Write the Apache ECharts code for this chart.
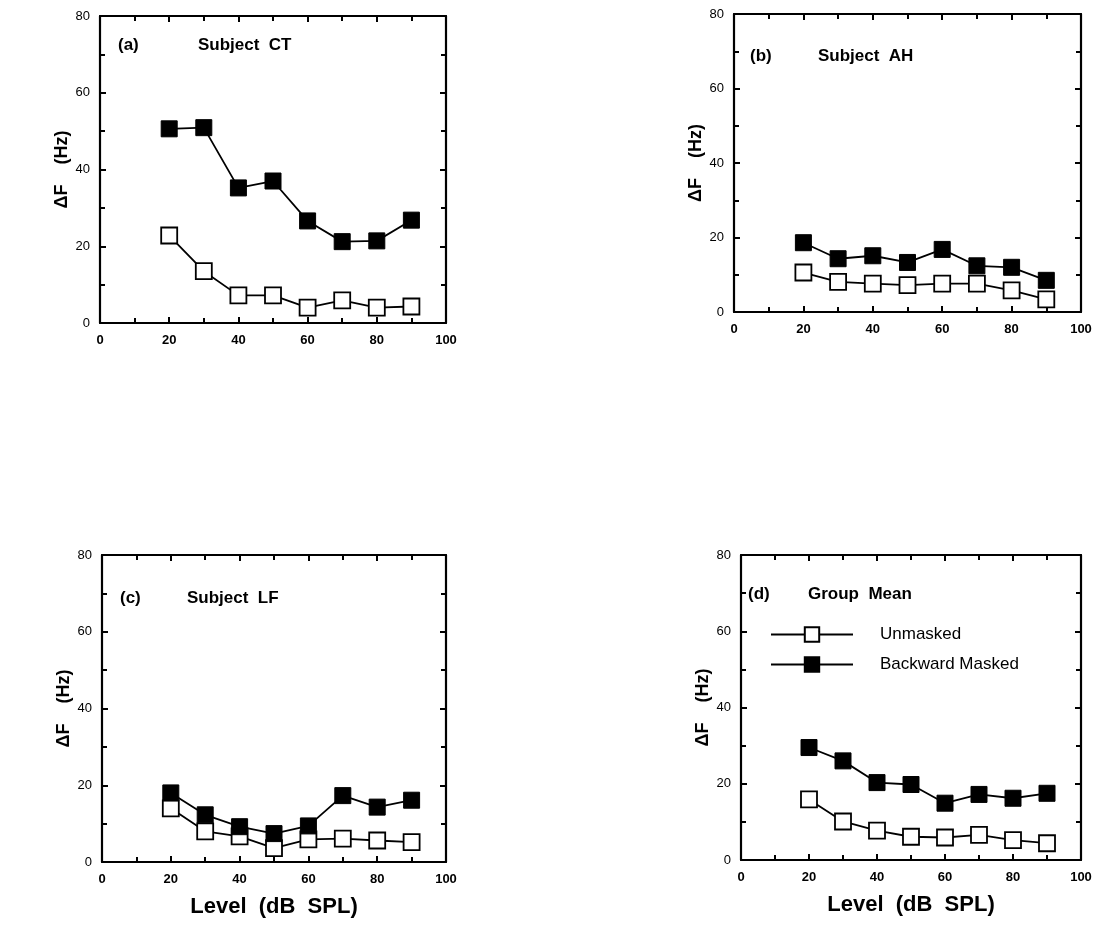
<!DOCTYPE html>
<html>
<head>
<meta charset="utf-8">
<script src="https://cdn.jsdelivr.net/npm/echarts@6/dist/echarts.min.js"></script>
<style>
  html, body { margin: 0; padding: 0; background: #fff; }
  #chart { width: 1102px; height: 927px; }
</style>
</head>
<body>
<div id="chart"></div>
<script>
const levels = [20, 30, 40, 50, 60, 70, 80, 90]

// (a) Subject CT
const ctUnmasked = [22.8, 13.5, 7.2, 7.2, 4.0, 5.9, 4.0, 4.3]
const ctMasked = [50.6, 50.9, 35.2, 37.0, 26.6, 21.2, 21.4, 26.8]
// (b) Subject AH
const ahUnmasked = [10.6, 8.1, 7.6, 7.2, 7.6, 7.6, 5.8, 3.4]
const ahMasked = [18.6, 14.3, 15.1, 13.3, 16.8, 12.4, 12.0, 8.5]
// (c) Subject LF
const lfUnmasked = [14.0, 8.0, 6.7, 3.6, 5.9, 6.1, 5.6, 5.2]
const lfMasked = [18.0, 12.3, 9.2, 7.4, 9.4, 17.3, 14.3, 16.1]
// (d) Group Mean
const meanUnmasked = [15.9, 10.1, 7.7, 6.1, 5.9, 6.6, 5.2, 4.4]
const meanMasked = [29.5, 26.0, 20.3, 19.8, 14.9, 17.2, 16.2, 17.5]

const panelTags = ['(a)', '(b)', '(c)', '(d)']
const panelNames = ['Subject  CT', 'Subject  AH', 'Subject  LF', 'Group  Mean']
const xTicks = [0, 20, 40, 60, 80, 100]

const panels = [
  { grid: { left: 100, top: 16, width: 346, height: 307 }, open: ctUnmasked, filled: ctMasked, tag: [118, 37], name: [198, 37], xName: '' },
  { grid: { left: 734, top: 14, width: 347, height: 298 }, open: ahUnmasked, filled: ahMasked, tag: [750, 48], name: [818, 48], xName: '' },
  { grid: { left: 102, top: 555, width: 344, height: 307 }, open: lfUnmasked, filled: lfMasked, tag: [120, 590], name: [187, 590], xName: 'Level  (dB  SPL)' },
  { grid: { left: 741, top: 555, width: 340, height: 305 }, open: meanUnmasked, filled: meanMasked, tag: [748, 586], name: [808, 586], xName: 'Level  (dB  SPL)' },
]

const black = '#000'
const lineStyle = { color: black, width: 2.2 }

const grids = []
const xAxes = []
const yAxes = []
const series = []
const titles = []

panels.forEach((p, i) => {
  grids.push(Object.assign({ containLabel: false }, p.grid))
  // bottom x axis with labels
  xAxes.push({
    type: 'value', gridIndex: i, position: 'bottom', min: 0, max: 100, interval: 20,
    axisLine: { onZero: false, lineStyle }, splitLine: { show: false },
    axisTick: { inside: true, length: 6, lineStyle: { color: black, width: 2 } },
    minorTick: { show: true, splitNumber: 2, length: 5, lineStyle: { color: black, width: 2 } },
    axisLabel: { color: black, fontSize: 13, fontWeight: 'bold', fontFamily: 'Liberation Sans', margin: 11,
      formatter: v => xTicks.includes(v) ? String(v) : '' },
    name: p.xName, nameLocation: 'middle', nameGap: 34,
    nameTextStyle: { color: black, fontSize: 22, fontWeight: 'bold', fontFamily: 'Liberation Sans' }
  })
  // top x axis (frame + ticks)
  xAxes.push({
    type: 'value', gridIndex: i, position: 'top', min: 0, max: 100, interval: 20,
    axisLine: { onZero: false, lineStyle }, splitLine: { show: false }, axisLabel: { show: false },
    axisTick: { inside: true, length: 6, lineStyle: { color: black, width: 2 } },
    minorTick: { show: true, splitNumber: 2, length: 5, lineStyle: { color: black, width: 2 } }
  })
  yAxes.push({
    type: 'value', gridIndex: i, position: 'left', min: 0, max: 80, interval: 20,
    axisLine: { show: true, onZero: false, lineStyle }, splitLine: { show: false },
    axisTick: { show: true, inside: true, length: 6, lineStyle: { color: black, width: 2 } },
    minorTick: { show: true, splitNumber: 2, length: 5, lineStyle: { color: black, width: 2 } },
    axisLabel: { color: black, fontSize: 13, fontFamily: 'Liberation Sans', margin: 10 },
    name: 'ΔF    (Hz)', nameLocation: 'middle', nameGap: 29, nameRotate: 90,
    nameTextStyle: { color: black, fontSize: 18, fontWeight: 'bold', fontFamily: 'Liberation Sans' }
  })
  yAxes.push({
    type: 'value', gridIndex: i, position: 'right', min: 0, max: 80, interval: 20,
    axisLine: { show: true, onZero: false, lineStyle }, splitLine: { show: false }, axisLabel: { show: false },
    axisTick: { show: true, inside: true, length: 6, lineStyle: { color: black, width: 2 } },
    minorTick: { show: true, splitNumber: 2, length: 5, lineStyle: { color: black, width: 2 } }
  })

  series.push({
    name: 'Unmasked', type: 'line', xAxisIndex: i * 2, yAxisIndex: i * 2,
    data: levels.map((x, k) => [x, p.open[k]]),
    symbol: 'rect', symbolSize: 16, z: 3,
    lineStyle: { color: black, width: 1.8 },
    itemStyle: { color: '#fff', borderColor: black, borderWidth: 1.8 }
  })
  series.push({
    name: 'Backward Masked', type: 'line', xAxisIndex: i * 2, yAxisIndex: i * 2,
    data: levels.map((x, k) => [x, p.filled[k]]),
    symbol: 'rect', symbolSize: 16, z: 4,
    lineStyle: { color: black, width: 1.8 },
    itemStyle: { color: black, borderColor: black, borderWidth: 1 }
  })

  const ts = { color: black, fontSize: 17, fontWeight: 'bold', fontFamily: 'Liberation Sans' }
  titles.push({ text: panelTags[i], left: p.tag[0], top: p.tag[1], padding: 0, textStyle: ts })
  titles.push({ text: panelNames[i], left: p.name[0], top: p.name[1], padding: 0, textStyle: ts })
})

const option = {
  animation: false,
  backgroundColor: '#fff',
  title: titles,
  grid: grids,
  xAxis: xAxes,
  yAxis: yAxes,
  legend: {
    data: ['Unmasked', 'Backward Masked'],
    orient: 'vertical', left: 770, top: 626, itemGap: 13,
    itemWidth: 82, itemHeight: 18, padding: 0,
    textStyle: { color: black, fontSize: 17, fontFamily: 'Liberation Sans', padding: [0, 0, 0, 22] }
  },
  series: series
}

const chart = echarts.init(document.getElementById('chart'))
chart.setOption(option)
</script>
</body>
</html>
